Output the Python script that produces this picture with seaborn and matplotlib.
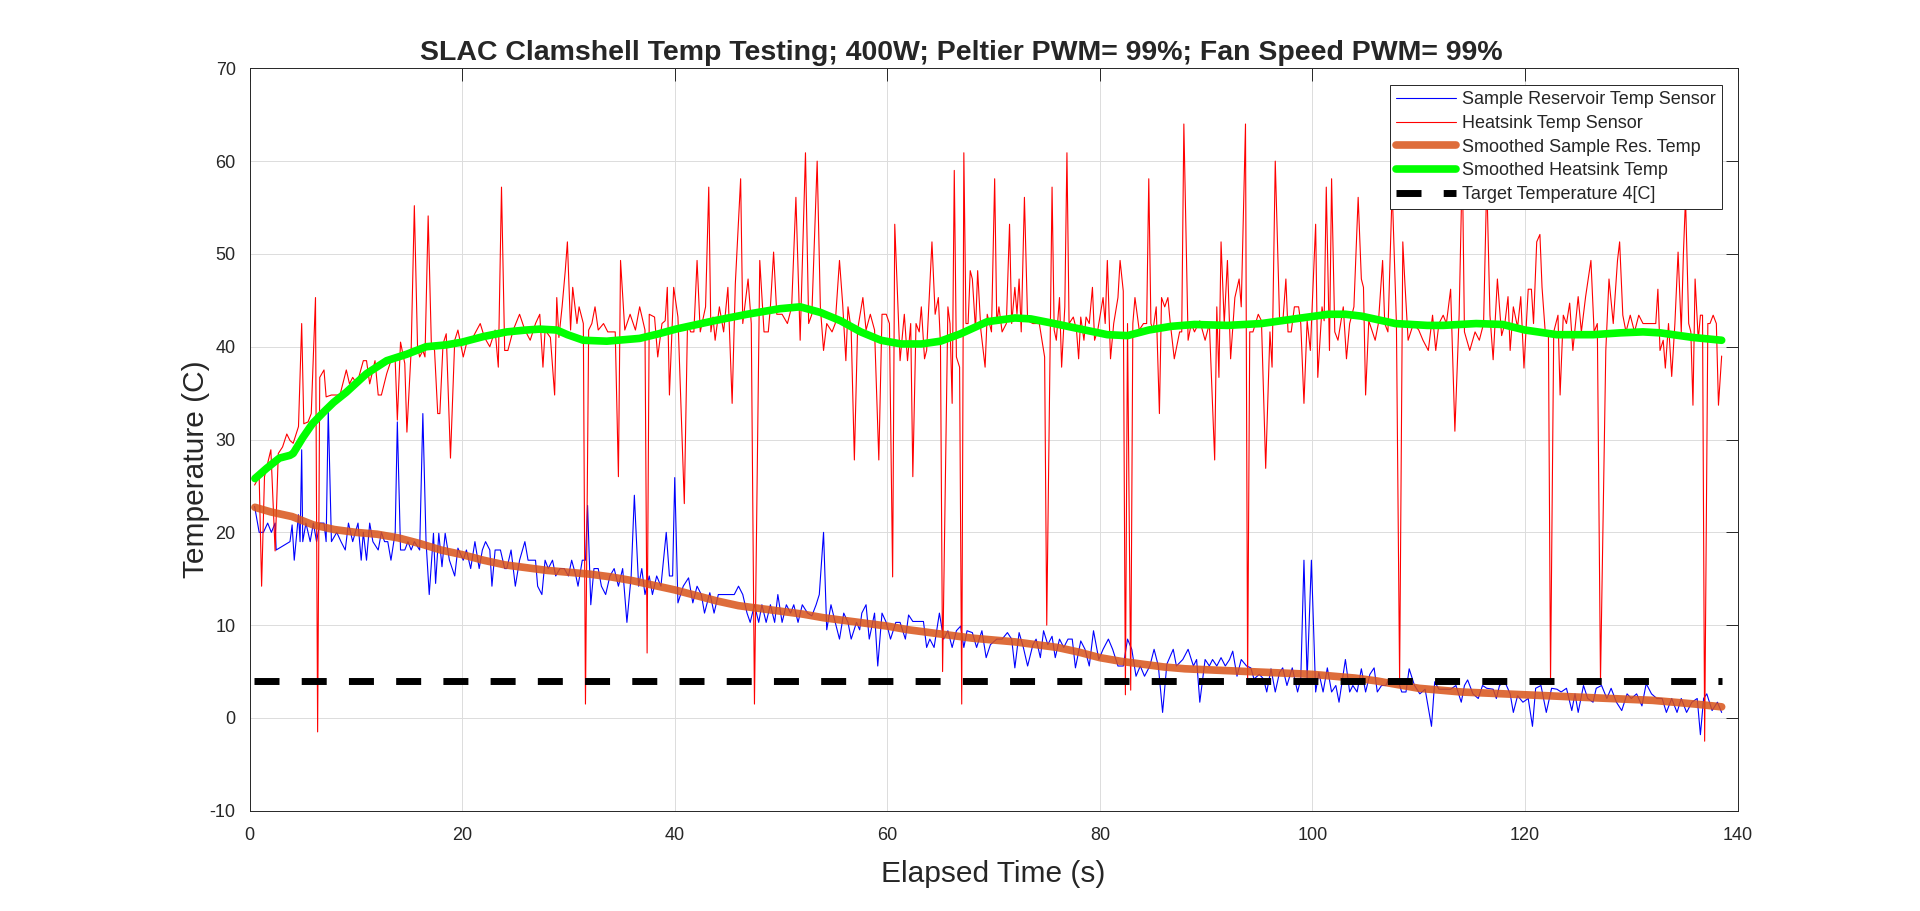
import pandas as pd
import seaborn as sns
import matplotlib
matplotlib.use("Agg")
import matplotlib.pyplot as plt

# Lecturas (tiempo transcurrido [s], temperatura [C]) sacadas del registro
reservoir = [
    (0.47, 22.8), (0.9, 20), (1.3, 20), (1.7, 21), (2.05, 20), (2.4, 21), (2.5, 18.1), (3.8, 19), (4.0, 20.8), (4.2, 17),
    (4.6, 21.9), (4.75, 19), (4.9, 28.9), (5.0, 19), (5.3, 21), (5.7, 19), (6.0, 21), (6.3, 19), (6.6, 21), (7.0, 21),
    (7.2, 19), (7.4, 33.2), (7.7, 19), (8.2, 20), (8.6, 19), (9.0, 18.1), (9.3, 21), (9.7, 19), (10.2, 21), (10.5, 17),
    (10.7, 20), (11.0, 17), (11.3, 21), (11.6, 19), (12.1, 18.1), (12.4, 20), (12.7, 19), (13.0, 19), (13.3, 17), (13.7, 20),
    (13.9, 31.9), (14.2, 18.1), (14.6, 18.1), (14.9, 19), (15.2, 18.1), (15.5, 19), (16.0, 18.1), (16.3, 32.8), (16.6, 19), (16.9, 13.3),
    (17.3, 19.9), (17.5, 14.5), (17.8, 19.9), (18.1, 16.3), (18.4, 19.9), (18.8, 17), (19.3, 15.3), (19.6, 18.3), (20.1, 17), (20.4, 18.1),
    (20.8, 16.1), (21.2, 19), (21.6, 16.1), (21.9, 18.1), (22.2, 19), (22.6, 18.1), (22.8, 14.2), (23.1, 18.1), (23.6, 18.1), (24.0, 16.1),
    (24.2, 16.1), (24.6, 18.1), (25.0, 14.2), (25.4, 17), (25.9, 19), (26.2, 17), (26.5, 17), (26.9, 17), (27.1, 14.2), (27.5, 13.3),
    (27.8, 17), (28.1, 16.1), (28.5, 17), (28.8, 15.3), (29.2, 16.1), (29.6, 16.1), (30.0, 15.3), (30.3, 17), (30.7, 15.3), (30.9, 14.2),
    (31.3, 17), (31.6, 17), (31.8, 22.9), (32.1, 12.2), (32.4, 16.1), (32.8, 16.1), (33.1, 14.2), (33.5, 13.3), (33.9, 15.3), (34.3, 16.1),
    (34.7, 14.2), (35.1, 16.1), (35.5, 10.3), (35.9, 15.3), (36.2, 24), (36.6, 14.2), (36.9, 16.1), (37.2, 13.3), (37.6, 15.3), (37.9, 13.3),
    (38.3, 15.3), (38.7, 14.2), (39.2, 20), (39.5, 15.3), (39.8, 15.3), (40.0, 25.9), (40.3, 12.4), (40.8, 14.2), (41.3, 15.1), (41.7, 12.4),
    (42.1, 14.2), (42.5, 13.3), (42.8, 11.3), (43.3, 13.5), (43.7, 11.3), (44.1, 13.3), (44.5, 13.3), (45.1, 13.3), (45.6, 13.3), (46.0, 14.2),
    (46.4, 13.3), (46.8, 11.3), (47.1, 10.3), (47.5, 12.2), (47.9, 10.3), (48.2, 12.2), (48.6, 10.3), (49.0, 12.2), (49.4, 10.3), (49.7, 13.3),
    (50.1, 10.3), (50.5, 12.2), (50.9, 11.3), (51.2, 12.2), (51.6, 10.3), (52.0, 12.2), (52.5, 11.3), (52.9, 11), (53.3, 12.2), (53.6, 13.3),
    (54.0, 20), (54.3, 9.5), (54.7, 12.2), (55.1, 10.3), (55.5, 8.5), (55.9, 11.3), (56.3, 10.3), (56.6, 8.5), (57.1, 10.3), (57.4, 9.5),
    (57.6, 11.3), (58.0, 12.2), (58.3, 8.5), (58.8, 11.3), (59.1, 5.6), (59.5, 11.3), (59.9, 10.3), (60.3, 8.5), (60.8, 10.3), (61.2, 10.3),
    (61.7, 8.5), (62.0, 11.1), (62.4, 10.4), (63.1, 10.4), (63.4, 10.4), (63.7, 7.6), (64.0, 8.5), (64.4, 7.6), (64.9, 11.3), (65.3, 8.5),
    (65.7, 9.4), (66.1, 7.6), (66.5, 9.4), (66.9, 9.9), (67.2, 7.6), (67.5, 9.4), (68.0, 9.2), (68.4, 7.6), (68.9, 9.4), (69.3, 6.5),
    (69.7, 7.9), (70.3, 8.5), (70.8, 8.5), (71.3, 9.2), (71.7, 8.5), (72.0, 5.4), (72.4, 9.2), (72.8, 7.6), (73.2, 5.6), (73.7, 7.9),
    (74.0, 8.5), (74.4, 6.5), (74.7, 9.4), (75.1, 7.9), (75.5, 8.8), (75.8, 6.5), (76.2, 8.5), (76.6, 7.6), (77.0, 8.5), (77.4, 8.5),
    (77.7, 5.4), (78.2, 8.3), (78.6, 7.4), (79.0, 5.6), (79.4, 9.4), (79.9, 6.3), (80.3, 7.4), (80.8, 8.5), (81.2, 7.4), (81.7, 5.6),
    (82.2, 5.6), (82.6, 8.5), (83.0, 7.4), (83.4, 4.5), (83.8, 5.6), (84.2, 4.5), (84.7, 5.6), (85.1, 7.4), (85.5, 5.6), (85.9, 0.6),
    (86.3, 5.8), (86.9, 7.4), (87.2, 5.6), (87.8, 6.3), (88.3, 7.4), (88.8, 5.6), (89.1, 6.3), (89.4, 1.7), (89.9, 6.3), (90.3, 5.6),
    (90.6, 6.3), (91.0, 5.6), (91.4, 6.5), (91.8, 5.6), (92.2, 6.3), (92.5, 7.2), (92.9, 4.5), (93.3, 6.3), (93.8, 5.6), (94.2, 5.4),
    (94.5, 4.2), (95.0, 4.7), (95.4, 4.2), (95.7, 2.8), (96.1, 5.3), (96.5, 2.8), (96.9, 4.9), (97.2, 5.4), (97.6, 3.5), (98.1, 5.4),
    (98.6, 2.8), (98.9, 4.2), (99.2, 17), (99.5, 4.2), (99.9, 17), (100.3, 2.8), (100.6, 4.9), (101.0, 2.8), (101.4, 5.4), (101.8, 2.8),
    (102.2, 3.5), (102.5, 1.7), (103.1, 6.3), (103.5, 2.8), (103.8, 3.5), (104.2, 2.8), (104.6, 5.3), (105.0, 2.8), (105.4, 4.7), (105.8, 5.4),
    (106.1, 2.8), (106.5, 3.5), (106.9, 3.5), (107.2, 4.2), (107.6, 4.2), (108.0, 4.2), (108.4, 2.8), (108.8, 2.8), (109.1, 5.3), (109.6, 3.5),
    (110.1, 2.6), (110.6, 3.1), (111.2, -0.9), (111.5, 3.9), (111.9, 3.1), (112.4, 3.1), (113.0, 3.1), (113.5, 3.5), (114.0, 1.7), (114.3, 3.5),
    (114.6, 4.1), (115.1, 2.6), (115.6, 2.1), (116.0, 3.5), (116.4, 3.2), (117.0, 3.1), (117.3, 2.1), (117.6, 3.5), (118.1, 3.9), (118.6, 2.6),
    (118.9, 0.6), (119.3, 2.4), (119.8, 1.7), (120.3, 2.1), (120.7, -0.9), (121.0, 3.2), (121.5, 3.5), (122.0, 0.6), (122.5, 3.2), (123.0, 3.1),
    (123.4, 2.8), (123.9, 3.2), (124.4, 0.8), (124.7, 2.6), (125.0, 0.6), (125.5, 3.5), (125.9, 2.1), (126.4, 1.7), (126.7, 3.2), (127.2, 3.5),
    (127.7, 2.1), (128.1, 3.2), (128.6, 1.7), (129.1, 0.8), (129.6, 2.6), (130.0, 2.1), (130.5, 2.6), (131.0, 1.3), (131.4, 3.7), (131.9, 2.6),
    (132.4, 2.1), (132.9, 2.1), (133.3, 0.6), (133.8, 2.1), (134.3, 0.6), (134.7, 2.1), (135.2, 0.6), (135.7, 1.7), (136.2, 2.1), (136.5, -1.8),
    (136.8, 2.1), (137.1, 2.6), (137.6, 0.8), (138.1, 1.7), (138.5, 0.6),
]

heatsink = [
    (0.47, 25.1), (0.9, 26), (1.13, 14.2), (1.4, 26), (2.0, 28.9), (2.4, 18), (2.7, 28.5), (3.1, 29.2), (3.5, 30.6), (3.8, 29.9),
    (4.1, 29.6), (4.6, 31.4), (4.9, 42.5), (5.1, 31.7), (5.5, 31.9), (5.8, 32.8), (6.2, 45.3), (6.4, -1.5), (6.6, 36.7), (7.0, 37.5),
    (7.2, 34.6), (7.7, 34.8), (8.5, 34.8), (9.1, 37.5), (9.4, 36), (9.7, 36.7), (10.1, 36), (10.7, 38.5), (11.0, 38.5), (11.3, 36),
    (11.8, 38.5), (12.1, 34.8), (12.4, 34.8), (12.9, 37.1), (13.3, 38.5), (13.7, 38.5), (13.9, 32.1), (14.2, 40.5), (14.6, 38.2), (14.8, 30.8),
    (15.2, 39.6), (15.5, 55.2), (15.8, 40), (16.0, 38.9), (16.3, 39.6), (16.5, 38.9), (16.8, 54.1), (17.1, 40.3), (17.4, 39.6), (17.7, 32.8),
    (17.9, 32.8), (18.2, 40.3), (18.5, 41.4), (18.9, 28), (19.3, 40.7), (19.6, 41.8), (20.1, 38.9), (20.4, 40.3), (21.0, 41), (21.7, 42.5),
    (22.1, 41), (22.6, 40), (23.1, 41.8), (23.4, 37.8), (23.7, 57.2), (24.0, 39.6), (24.3, 39.6), (24.8, 41.8), (25.4, 43.5), (25.9, 41.8),
    (26.4, 40.7), (26.9, 42.5), (27.3, 43.5), (27.6, 37.8), (27.8, 41.8), (28.3, 41), (28.7, 34.8), (28.9, 45.3), (29.1, 41), (29.4, 44.3),
    (29.7, 48.2), (29.9, 51.3), (30.2, 41.8), (30.4, 46.4), (30.8, 42.5), (31.0, 44.3), (31.4, 42.5), (31.6, 1.5), (31.9, 41.8), (32.2, 42.5),
    (32.5, 44.3), (32.8, 41.8), (33.3, 42.5), (33.7, 41.6), (34.4, 41.6), (34.7, 26), (34.9, 49.3), (35.3, 41.8), (35.8, 43.5), (36.3, 41.8),
    (36.7, 44.3), (37.2, 41.8), (37.4, 7), (37.6, 43.5), (38.1, 43.2), (38.4, 38.9), (38.8, 42.5), (39.1, 42.8), (39.3, 46.4), (39.5, 34.8),
    (39.9, 46.4), (40.3, 43.2), (40.9, 23.1), (41.2, 42.5), (41.5, 41.6), (41.8, 41.6), (42.1, 49.3), (42.4, 41.6), (42.9, 44.3), (43.2, 57.2),
    (43.4, 41.6), (43.6, 43.2), (43.8, 40.7), (44.2, 44.3), (44.6, 41.6), (45.0, 46.4), (45.4, 33.9), (45.7, 46.8), (46.2, 58.1), (46.4, 42.5),
    (46.9, 47.3), (47.2, 42.5), (47.5, 1.5), (48.0, 49.3), (48.4, 41.6), (48.8, 41.6), (49.0, 44.3), (49.3, 50.2), (49.6, 43.5), (50.1, 43.5),
    (50.6, 42.5), (51.0, 44.3), (51.4, 56.1), (51.8, 40.7), (52.3, 60.9), (52.6, 42.5), (52.9, 43.5), (53.4, 60), (53.7, 44.3), (54.0, 39.6),
    (54.3, 42.5), (54.8, 41.6), (55.1, 42.5), (55.5, 49.3), (55.8, 44.6), (56.1, 38.5), (56.3, 44.3), (56.6, 41.8), (56.9, 27.8), (57.2, 41.8),
    (57.7, 45.3), (58.0, 41.8), (58.4, 43.5), (58.8, 41.8), (59.2, 27.8), (59.5, 43.5), (59.9, 43.5), (60.2, 42.5), (60.5, 15.2), (60.7, 53.2),
    (61.2, 38.5), (61.6, 43.5), (61.9, 38.5), (62.2, 42.5), (62.4, 26), (62.7, 42.5), (63.0, 41.6), (63.2, 44.3), (63.5, 38.7), (63.7, 39.6),
    (64.2, 51.3), (64.5, 43.5), (64.8, 45.3), (65.0, 40.3), (65.2, 5), (65.7, 44.3), (65.9, 42.5), (66.1, 33.9), (66.3, 59), (66.5, 38.9),
    (66.8, 37.8), (67.0, 1.5), (67.2, 60.9), (67.4, 42.5), (67.6, 42.5), (67.8, 48.2), (68.0, 47.3), (68.3, 41.8), (68.5, 48.2), (68.8, 41.8),
    (69.2, 37.8), (69.4, 43.5), (69.8, 41.6), (70.1, 58.1), (70.3, 42.5), (70.5, 44.3), (70.8, 41.6), (71.2, 42.5), (71.5, 53.2), (71.7, 42.5),
    (72.0, 46.4), (72.2, 43.5), (72.4, 47.3), (72.6, 41.6), (72.9, 56.1), (73.2, 42.8), (73.7, 42.5), (74.3, 42.5), (74.8, 38.9), (75.0, 10),
    (75.5, 57.2), (75.7, 41.8), (75.9, 40.7), (76.2, 45.3), (76.4, 37.8), (76.7, 44.3), (76.9, 60.9), (77.1, 42.5), (77.5, 43.2), (77.8, 41.8),
    (78.0, 38.7), (78.2, 43.2), (78.5, 40.7), (78.7, 43.2), (79.0, 42.5), (79.3, 46.4), (79.5, 40.7), (79.8, 41.8), (80.3, 45.3), (80.5, 42.5),
    (80.7, 49.3), (81.0, 38.7), (81.3, 42.5), (81.7, 45.3), (81.9, 49.3), (82.2, 46), (82.4, 2.5), (82.6, 42.5), (82.9, 3), (83.1, 42.5),
    (83.3, 45.3), (83.7, 41.8), (84.1, 42.5), (84.4, 42.5), (84.6, 58.1), (84.8, 42.5), (85.0, 41.8), (85.3, 44.3), (85.6, 32.8), (85.8, 45.3),
    (86.1, 44.3), (86.4, 45.3), (86.6, 42.8), (87.0, 38.7), (87.5, 41.6), (87.7, 41.6), (87.9, 64), (88.3, 40.7), (88.6, 42.5), (88.9, 41.6),
    (89.4, 42.8), (89.9, 40.7), (90.3, 42.5), (90.8, 27.8), (91.0, 44.3), (91.2, 36.7), (91.4, 51.3), (91.7, 42.5), (92.0, 49.3), (92.3, 38.7),
    (92.7, 45.3), (93.1, 47.3), (93.3, 44.3), (93.7, 64), (93.9, 4), (94.1, 41.6), (94.4, 41.6), (94.9, 43.5), (95.2, 42.8), (95.6, 26.9),
    (96.0, 41.6), (96.2, 37.8), (96.5, 60), (96.9, 43.2), (97.2, 42.5), (97.5, 47.3), (97.7, 41.6), (98.0, 41.6), (98.3, 44.3), (98.7, 44.3),
    (98.9, 42.5), (99.2, 33.9), (99.5, 42.8), (99.8, 39.6), (100.3, 53.2), (100.5, 36.7), (100.9, 44.3), (101.1, 42.8), (101.3, 57.2), (101.6, 39.6),
    (101.8, 58.1), (102.1, 41.6), (102.4, 40.7), (102.9, 44.3), (103.2, 38.7), (103.5, 42.5), (103.9, 44.3), (104.3, 56.1), (104.6, 47.3), (104.8, 46.4),
    (105.0, 34.8), (105.3, 42.8), (105.9, 40.7), (106.2, 42.5), (106.6, 49.3), (106.8, 42.5), (107.1, 41.6), (107.5, 57), (107.9, 42.5), (108.2, 4),
    (108.5, 51.3), (108.7, 46.8), (109.0, 40.7), (109.5, 42.5), (110.0, 41.8), (110.4, 40.7), (110.9, 39.6), (111.3, 43.4), (111.6, 39.6), (111.9, 42.5),
    (112.3, 43.4), (112.6, 42.5), (113.0, 46.2), (113.4, 30.9), (113.8, 43.4), (114.1, 60), (114.3, 41.6), (114.8, 39.6), (115.3, 41.6), (115.7, 40.7),
    (116.1, 42.5), (116.4, 58), (116.7, 43.4), (117.0, 38.6), (117.4, 47.3), (117.8, 41.2), (118.1, 42.5), (118.4, 45.4), (118.6, 39.6), (118.9, 44.3),
    (119.3, 42.1), (119.6, 45.4), (119.9, 37.7), (120.3, 46.2), (120.6, 46.2), (120.8, 42.5), (121.1, 51.3), (121.4, 52.1), (121.6, 46.4), (121.9, 41.6),
    (122.2, 41.6), (122.4, 4), (122.7, 41.6), (123.1, 43.4), (123.3, 34.8), (123.6, 43.4), (123.9, 42.5), (124.2, 44.7), (124.5, 39.6), (125.0, 45.4),
    (125.3, 41.6), (125.7, 45.4), (126.2, 49.3), (126.5, 41.6), (126.8, 42.5), (127.1, 4), (127.6, 39.6), (127.9, 47.3), (128.3, 42.5), (128.7, 49.3),
    (128.9, 51.3), (129.2, 43.4), (129.5, 41.6), (129.9, 43.4), (130.3, 41.6), (130.7, 43.4), (131.1, 42.5), (131.8, 42.5), (132.3, 42.5), (132.5, 46.2),
    (132.7, 39.6), (133.0, 40.7), (133.2, 37.7), (133.5, 42.5), (133.8, 36.8), (134.1, 42.5), (134.4, 50.2), (134.7, 41.6), (134.9, 50), (135.1, 56),
    (135.4, 42.5), (135.6, 41.6), (135.8, 33.7), (136.0, 47.3), (136.3, 40.7), (136.5, 43.4), (136.7, 43.4), (136.9, -2.5), (137.2, 42.5), (137.4, 42.5),
    (137.7, 43.4), (138.0, 42.5), (138.2, 33.7), (138.5, 39),
]

smooth_reservoir = [
    (0.5, 22.7), (2, 22.2), (4, 21.7), (6, 20.8), (8, 20.3), (10, 20.0), (12, 19.8), (14, 19.4), (16, 18.8), (18, 18.1),
    (20, 17.6), (22, 17.0), (24, 16.5), (26, 16.2), (28, 15.9), (30, 15.7), (32, 15.5), (34, 15.2), (36, 14.8), (38, 14.3),
    (40, 13.8), (42, 13.2), (44, 12.6), (46, 12.1), (48, 11.8), (50, 11.5), (52, 11.2), (54, 10.8), (56, 10.5), (58, 10.2),
    (60, 9.9), (62, 9.5), (64, 9.2), (66, 8.9), (68, 8.6), (70, 8.4), (72, 8.2), (74, 7.9), (76, 7.6), (78, 7.1),
    (80, 6.5), (82, 6.1), (84, 5.8), (86, 5.5), (88, 5.3), (90, 5.2), (92, 5.1), (94, 5.0), (96, 4.9), (98, 4.8),
    (100, 4.7), (102, 4.5), (104, 4.3), (106, 4.0), (108, 3.6), (110, 3.2), (112, 3.0), (114, 2.8), (116, 2.7), (118, 2.6),
    (120, 2.5), (122, 2.4), (124, 2.3), (126, 2.2), (128, 2.1), (130, 2.0), (132, 1.9), (134, 1.7), (136, 1.5), (138.5, 1.2),
]

smooth_heatsink = [
    (0.5, 25.8), (1.6, 26.9), (2.8, 28.0), (3.8, 28.3), (4.1, 28.5), (5.0, 30.2), (5.9, 31.7), (7.0, 33.0), (7.9, 34.0), (9.1, 35.1),
    (11.0, 37.1), (12.9, 38.5), (14.8, 39.2), (16.6, 40.0), (18.5, 40.2), (20.0, 40.5), (22.0, 41.1), (24.2, 41.6), (26.0, 41.8), (27.3, 41.9),
    (28.9, 41.8), (29.9, 41.3), (31.4, 40.7), (33.6, 40.6), (36.7, 40.9), (38.5, 41.4), (40.1, 41.9), (43.7, 42.8), (46.8, 43.5), (49.9, 44.1),
    (51.8, 44.3), (53.7, 43.7), (55.6, 42.8), (57.5, 41.6), (59.4, 40.7), (61.3, 40.3), (63.2, 40.3), (65.0, 40.6), (66.9, 41.4), (69.4, 42.7),
    (72.0, 43.1), (73.5, 43.0), (75.7, 42.5), (78.2, 41.9), (80.7, 41.3), (82.6, 41.2), (84.6, 41.8), (86.7, 42.2), (88.9, 42.4), (92.0, 42.3),
    (95.2, 42.5), (98.3, 43.0), (101.5, 43.5), (103.1, 43.5), (104.6, 43.3), (107.8, 42.5), (110.8, 42.3), (112.3, 42.3), (115.4, 42.5), (117.9, 42.4),
    (120.0, 41.8), (123.0, 41.3), (126.4, 41.3), (129.0, 41.5), (131.1, 41.6), (132.7, 41.5), (135.8, 41.0), (138.5, 40.7),
]

target_temp = 4
target_span = [0.4, 138.5]

title_text = "SLAC Clamshell Temp Testing; 400W; Peltier PWM= 99%; Fan Speed PWM= 99%"
x_ticks = [0, 20, 40, 60, 80, 100, 120, 140]
y_ticks = [-10, 0, 10, 20, 30, 40, 50, 60, 70]


def as_frame(pairs):
    return pd.DataFrame(pairs, columns=["t", "temp"])


target = pd.DataFrame({"t": target_span, "temp": [target_temp] * len(target_span)})

sns.set_style("white")
plt.rcParams["font.family"] = ["Liberation Sans", "DejaVu Sans"]
plt.rcParams["axes.unicode_minus"] = False
ink = "#262626"

fig = plt.figure(figsize=(19.2, 9.11), dpi=100)
ax = fig.add_axes([0.13, 0.11, 0.775, 0.815])

common = dict(x="t", y="temp", sort=False, estimator=None, ax=ax)
sns.lineplot(data=as_frame(reservoir), color="#0000FF", linewidth=0.8,
             label="Sample Reservoir Temp Sensor", **common)
sns.lineplot(data=as_frame(heatsink), color="#FF0000", linewidth=0.8,
             label="Heatsink Temp Sensor", **common)
sns.lineplot(data=as_frame(smooth_reservoir), color="#D95319", alpha=0.85, linewidth=5.5,
             label="Smoothed Sample Res. Temp", **common)
sns.lineplot(data=as_frame(smooth_heatsink), color="#00FF00", linewidth=5.5,
             label="Smoothed Heatsink Temp", **common)
sns.lineplot(data=target, color="black", linewidth=5, linestyle=(0, (3.6, 3.2)),
             dash_capstyle="butt", label="Target Temperature 4[C]", **common)

ax.set_xlim(0, 140)
ax.set_ylim(-10, 70)
ax.set_xticks(x_ticks)
ax.set_yticks(y_ticks)
ax.grid(True, color="#DCDCDC", linewidth=0.7)
ax.set_axisbelow(True)
for side in ax.spines.values():
    side.set_visible(True)
    side.set_color(ink)
    side.set_linewidth(0.7)
ax.tick_params(direction="in", length=9, width=0.7, top=True, right=True,
               labelsize=13, colors=ink)
ax.tick_params(axis="x", pad=12)
ax.tick_params(axis="y", pad=10)

ax.set_xlabel("Elapsed Time (s)", fontsize=21.5, labelpad=11.5, color=ink)
ax.set_ylabel("Temperature (C)", fontsize=21.5, labelpad=0, color=ink, y=0.46)
ax.set_title(title_text, fontsize=20.5, fontweight="bold", pad=6, x=0.478)

leg = ax.legend(loc="upper right", bbox_to_anchor=(0.9895, 0.977), borderaxespad=0,
                fontsize=13, frameon=True, fancybox=False, edgecolor=ink, framealpha=1,
                borderpad=0.33, handlelength=3.3, handletextpad=0.35, labelspacing=0.37)
leg.get_frame().set_linewidth(0.7)

fig.savefig("out.png", dpi=100)
